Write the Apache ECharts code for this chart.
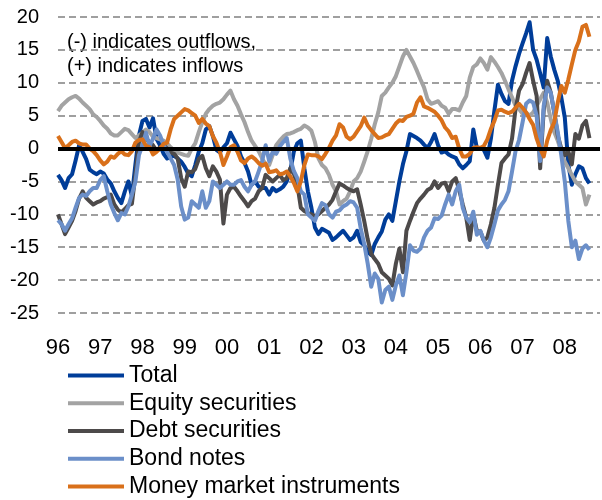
<!DOCTYPE html>
<html>
<head>
<meta charset="utf-8">
<script src="https://cdn.jsdelivr.net/npm/echarts@6/dist/echarts.min.js"></script>
<style>
  html, body { margin: 0; padding: 0; background: #fff; }
  #chart { width: 602px; height: 500px; }
</style>
</head>
<body>
<div id="chart"></div>
<script>
// monthly flows, Jan 1996 .. Aug 2008
const yearLabels = ['96', '97', '98', '99', '00', '01', '02', '03', '04', '05', '06', '07', '08'];

const total = [
    -4, -4.8, -6, -4.5, -3.9, -1.8, 0.5, -0.5, -1.6, -3.2, -3.6, -3.9,
    -3.5, -3.8, -4.7, -5.3, -6.5, -7.5, -8.3, -6.5, -5, -7.2, -2.4, 2,
    4.2, 4.5, 3.2, 4.6, 1.5, 0.5, -0.8, -1.5, -1.2, -1.1, -1.5, -2,
    -2.8, -3.8, -4.2, -2.5, -0.5, 0.8, 2.9, 3.4, 1.9, -0.2, -0.6, 0.2,
    0.8, 2.4, 1.4, 0.4, -1.2, -2.2, -3.5, -5.5, -5, -5.8, -6, -6,
    -7, -6, -6.5, -6.2, -5.8, -5, -3.4, -0.5, 0.8, 1.2, -3, -6.5,
    -9, -12, -13, -12.2, -12.5, -12.8, -13.9, -13.5, -13, -12.5, -13.2, -13.9,
    -13.5, -12.5, -14.2, -14.7, -15.7, -16.2, -14.5, -13.5, -12.6, -10.8, -10, -11,
    -8, -5, -2.4, -0.4, 2.2, 1.9, 1.6, 1.2, 0.6, 0.1, 1, 2.2,
    0.5, -0.6, -0.4, -0.9, -1.2, -1.4, -2.4, -3, -2.5, -1.9, 2.9, 0.1,
    0.1, -0.2, -1.4, 1.5, 5.8, 9.7, 8.3, 7.2, 6.8, 10.3, 12.5, 14.4,
    16, 17.5, 19.2, 15, 13.5, 11.4, 9.3, 16.8, 14, 12, 10.3, 7.8,
    4.7, -2.4, -5.5, -3.9, -2.7, -3, -4.5, -5.3
];

const equity = [
    5.7, 6.5, 7, 7.5, 7.8, 8, 7.6, 7, 6.5, 6, 5.2, 4.8,
    4.2, 3.5, 3, 2.3, 2, 2, 2.5, 3, 2.8, 2.2, 1.6, 2,
    2.4, 2.9, 2.5, 1.8, 1.6, 1.4, 1.2, 0.8, 0.2, -0.3, -0.6, -0.8,
    -1, -1.1, 0, 0.8, 2.5, 4, 5.3, 6, 6.5, 6.8, 7, 7.5,
    8.2, 8.8, 7.5, 6.5, 5.2, 4, 2.5, 1.2, 0.4, -0.4, -1.5, -2.4,
    -2.5, -1, 0.5, 1.2, 1.8, 2.2, 2.3, 2.5, 2.8, 3, 3.5, 3.2,
    2.7, 1, -1.5, -2.5, -3, -4, -5.5, -6.5, -8.5, -8, -7.6, -6.5,
    -5, -4.5, -3.5, -2, -0.4, 1.5, 3.7, 5.5, 8, 8.5, 9.3, 10,
    11, 12.5, 14, 15, 14, 13, 11.8, 10.5, 9.3, 7.5, 6.8, 7,
    7.2, 6.5, 6.2, 5.3, 6, 6, 5.8, 7, 8, 10.8, 12.4, 12.8,
    13.7, 13, 12, 13.9, 13.2, 12.4, 11.5, 10.3, 9, 7.8, 6.5, 6,
    5.3, 5.5, 5, 5.5, 6.5, 7.5, 8.5, 7, 4.5, 2.5, 1.2, -0.5,
    -2, -3, -4, -5, -5.5, -6, -8.5, -7
];

const debt = [
    -10, -11.5, -13, -12, -11, -9.5, -7.6, -6.5, -7.5, -8, -8.5, -8.2,
    -8, -7.6, -7.4, -7, -8.5, -9.3, -9.7, -9.2, -8.6, -8.4, -4, 1,
    2.5, 1.5, 1, 0.5, -0.3, 0.2, 0.5, 0, -0.6, -0.8, -1.5, -4.5,
    -5.8, -3.5, -3.6, -3.1, -1.6, -1.1, -3, -4.2, -2.7, -3.5, -4.7, -11.4,
    -7, -6, -5.8, -6.5, -7.3, -8, -8.8, -8, -7.6, -6.5, -6, -4,
    -4.5, -5, -4.5, -4, -4.8, -4.5, -3, -3.8, -5.5, -9, -9.5, -9.8,
    -10, -10.3, -10, -9.5, -9, -8.5, -7.8, -6.5, -5.3, -5.6, -6, -6.3,
    -6.5, -6.2, -8.5, -11, -13.8, -16, -16.8, -17.5, -18.8, -19.3, -19.8, -20.8,
    -17.5, -15.2, -18.8, -12.5, -11, -9.6, -8.3, -7.6, -7, -6.3, -6, -5,
    -6, -5.3, -5.2, -6.5, -5, -4.5, -6.3, -8.5, -10.5, -13.9, -10, -12.5,
    -12.6, -14, -13.5, -11.5, -9, -5.5, -2.2, -1.5, -0.9, 1.5, 6, 8.8,
    9.8, 11.5, 13, 10.3, 8, -3, 5.8, 10.3, 8.5, 5.5, 2, 0,
    -1, -0.4, -2.4, 2.2, 1.5, 3.5, 4.2, 1.6
];

const bondNotes = [
    -10.9, -11.5, -12.5, -11.5, -10.6, -9, -7.5, -7, -7.2, -6.5, -6, -6,
    -4.8, -4.2, -6.5, -8.5, -9.8, -10.9, -9.8, -10, -8.8, -7, -5, -1,
    0.5, 2.4, 0.4, 1.5, 2.9, 2, 0.5, -0.5, -1.5, -2.5, -4.7, -8.8,
    -10.8, -10.5, -8, -8.5, -9, -6.5, -9, -8, -5, -5.5, -6, -5.5,
    -5, -5.5, -5.5, -5, -4.8, -5.8, -6.5, -5.5, -5, -3.5, -1.9, 0.5,
    -1.9, -0.5, -0.8, 0.3, 1, 1.6, -1.5, -3.4, -4.5, -6.5, -7, -10,
    -10.5, -11, -9.5, -8.3, -8.6, -10, -10.5, -9.6, -9.4, -8.8, -8.5, -8,
    -8.2, -9, -12.1, -14.5, -17.5, -21, -19, -19.8, -23.4, -21.5, -21, -23,
    -20.8, -19.3, -22.3, -18.8, -14.7, -15.5, -15.7, -15.2, -13.5, -12.5, -12, -10.6,
    -10.7, -10.2, -8.5, -7, -8.5, -6.5, -5.5, -9, -10.5, -11.2, -9.6, -13.1,
    -12.5, -14, -15, -13.5, -11.5, -9.4, -8.5, -7.8, -6.5, -3.5, -0.4, 1.3,
    4, 6.8, 7.3, 7, 5, -1.9, 6.5, 9.3, 8.5, 5.5, 2.5, -1,
    -5, -11, -15, -14, -16.8, -15.2, -14.7, -15.4
];

const moneyMarket = [
    1.9, 1, 0.1, 0.5, 1, 1.2, 0.8, 0.6, 0.6, 0, -0.4, -1,
    -1.8, -2.4, -2, -1.2, -1.4, -0.8, -0.4, -0.9, -1, -0.4, 0.9, 1.3,
    1.4, 0.4, 0.2, -0.9, -0.5, 0, 0.7, 0.9, 2.9, 4.5, 5, 5.5,
    6, 5.8, 5.4, 5, 3.9, 4.5, 3.8, 3.4, 1.9, 0.9, -0.5, -2.5,
    -1.2, 0.2, 0.5, -0.5, -1.8, -2.2, -1.5, -1.2, -1.6, -2.2, -2.6, -2.3,
    -3.6, -3.5, -3.3, -3.9, -3.8, -3.5, -4.2, -5.2, -6.5, -5, -2.5, -0.9,
    -1, -1, -1.2, -1.6, -0.8, 0.1, 1.2, 2, 3.7, 3.2, 1.8, 1.4,
    1.8, 2.6, 3.4, 4.7, 3.5, 2.8, 2.2, 1.6, 1.7, 2, 2.2, 3,
    3.8, 4.3, 4.2, 4.8, 5, 5.3, 7, 7.8, 6.4, 6.2, 5.9, 5.6,
    5, 4.3, 3.2, 2.6, 1.6, 1.8, 0, -1.2, -1.2, -0.8, 0.1, 0.2,
    0.1, 0.4, 1.4, 3, 4.2, 5.8, 5.9, 5.6, 5.4, 5.6, 6.2, 6.8,
    6.2, 5.5, 4.5, 3.6, 1.5, 0, -1.2, 1.2, 2.8, 4, 7, 9.5,
    8.5, 10.5, 12.8, 15, 16.3, 18.5, 18.8, 17
];

const seriesNames = ['Total', 'Equity securities', 'Debt securities', 'Bond notes', 'Money market instruments'];
const seriesColors = ['#003d99', '#a3a3a3', '#4d4a4a', '#6b8fc9', '#d9701a'];
const seriesData = [total, equity, debt, bondNotes, moneyMarket];

// month categories, the axis runs a few months past the last value
const months = [];
for (let i = 0; i < 155; i++) {
    const year = 1996 + Math.floor(i / 12);
    months.push(year + '-' + String(i % 12 + 1).padStart(2, '0'));
}

const FONT = "'Liberation Sans', Arial, sans-serif";

const chart = echarts.init(document.getElementById('chart'));

const series = [
    {
        name: 'zero',
        type: 'line',
        data: [],
        silent: true,
        markLine: {
            silent: true,
            symbol: 'none',
            label: { show: false },
            lineStyle: { color: '#000', width: 4, type: 'solid' },
            data: [{ yAxis: 0 }]
        }
    }
];
seriesNames.forEach((name, i) => {
    series.push({
        name: name,
        type: 'line',
        data: seriesData[i],
        showSymbol: false,
        symbol: 'none',
        lineStyle: { color: seriesColors[i], width: 4, join: 'round' },
        itemStyle: { color: seriesColors[i] }
    });
});

chart.setOption({
    animation: false,
    grid: { left: 58, right: 2, top: 17, bottom: 187 },
    xAxis: {
        type: 'category',
        data: months,
        boundaryGap: false,
        axisLine: { show: false },
        axisTick: { show: false },
        splitLine: { show: false },
        axisLabel: {
            interval: (idx) => idx % 12 === 0,
            formatter: (v) => yearLabels[Number(v.slice(0, 4)) - 1996],
            color: '#000',
            fontFamily: FONT,
            fontSize: 22,
            margin: 24
        }
    },
    yAxis: {
        type: 'value',
        min: -25,
        max: 20,
        interval: 5,
        axisLine: { show: false },
        axisTick: { show: false },
        axisLabel: {
            color: '#000',
            fontFamily: FONT,
            fontSize: 20,
            margin: 19
        },
        splitLine: {
            lineStyle: { color: '#808080', width: 1.5, type: [7, 4] }
        }
    },
    legend: {
        data: seriesNames.map(n => ({ name: n, icon: 'rect' })),
        orient: 'vertical',
        left: 68,
        top: 364,
        itemWidth: 56,
        itemHeight: 4,
        itemGap: 4.75,
        padding: 0,
        textStyle: {
            color: '#000',
            fontFamily: FONT,
            fontSize: 23,
            lineHeight: 23
        }
    },
    graphic: [
        {
            type: 'text',
            left: 67,
            top: 30,
            style: {
                text: '(-) indicates outflows,\n(+) indicates inflows',
                fill: '#000',
                font: '20px ' + FONT,
                lineHeight: 24
            }
        }
    ],
    series: series
});
</script>
</body>
</html>
